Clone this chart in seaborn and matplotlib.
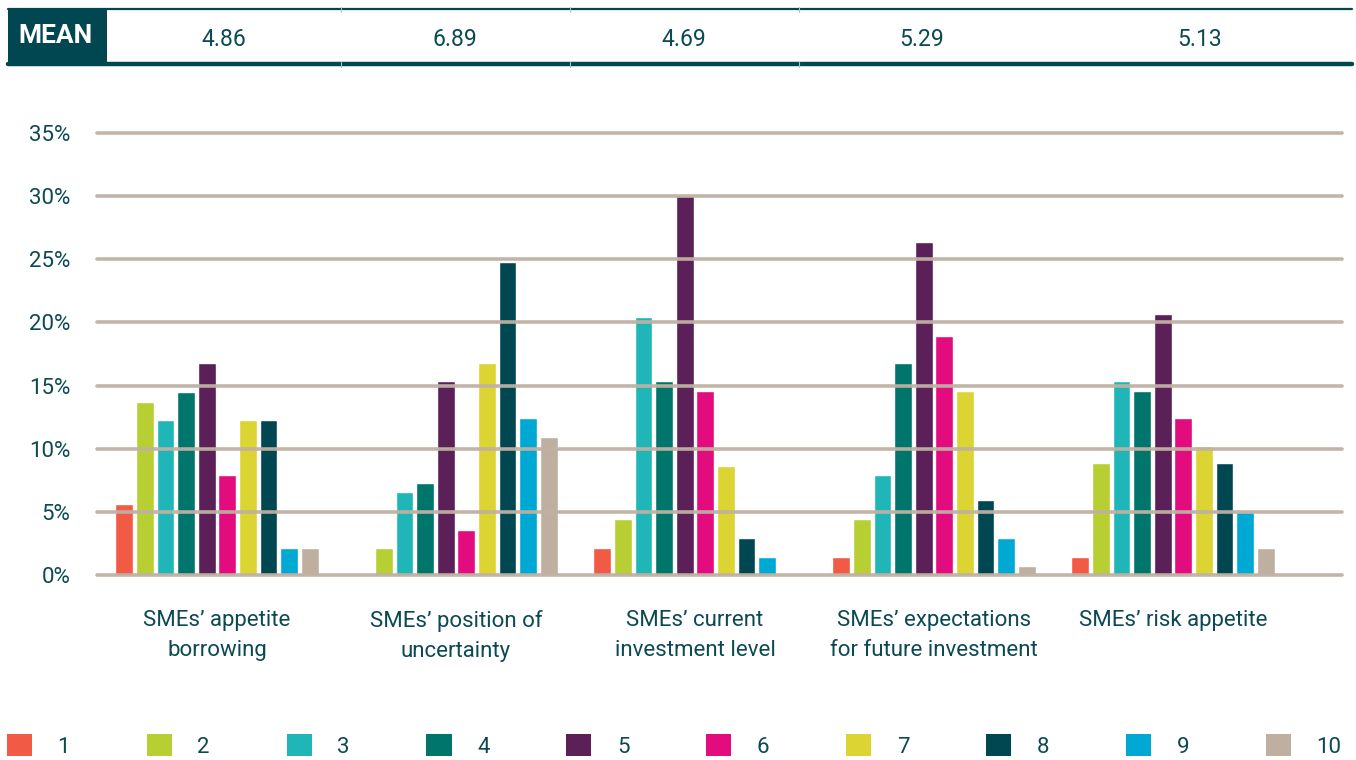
import matplotlib
matplotlib.use("Agg")
import matplotlib.pyplot as plt
from matplotlib.patches import Rectangle, Patch
from matplotlib.lines import Line2D
import numpy as np
import pandas as pd
import seaborn as sns

# Survey categories and the mean score for each
categories = [
    "SMEs\u2019 appetite\nborrowing",
    "SMEs\u2019 position of\nuncertainty",
    "SMEs\u2019 current\ninvestment level",
    "SMEs\u2019 expectations\nfor future investment",
    "SMEs\u2019 risk appetite",
]
means = ["4.86", "6.89", "4.69", "5.29", "5.13"]

# Share of respondents (%) giving each score 1-10, per category
score_1 = [5.6, 0.0, 2.1, 1.4, 1.4]
score_2 = [13.7, 2.1, 4.4, 4.4, 8.9]
score_3 = [12.3, 6.6, 20.4, 7.9, 15.4]
score_4 = [14.5, 7.3, 15.4, 16.8, 14.6]
score_5 = [16.8, 15.4, 30.0, 26.4, 20.7]
score_6 = [7.9, 3.6, 14.6, 18.9, 12.4]
score_7 = [12.3, 16.8, 8.6, 14.6, 10.2]
score_8 = [12.3, 24.8, 2.9, 5.9, 8.9]
score_9 = [2.1, 12.4, 1.4, 2.9, 5.0]
score_10 = [2.1, 10.9, 0.0, 0.7, 2.1]

scores = ["1", "2", "3", "4", "5", "6", "7", "8", "9", "10"]
score_values = [score_1, score_2, score_3, score_4, score_5,
                score_6, score_7, score_8, score_9, score_10]

y_ticks = [0, 5, 10, 15, 20, 25, 30, 35]

palette = ["#F15A45", "#B8CF33", "#20B6B8", "#00756C", "#5C2058",
           "#E20C7F", "#DCD433", "#004751", "#00A8D4", "#BFAFA0"]

TEXT = "#0C4A53"
GRID = "#BFB1A3"
DARK = "#004751"

rows = []
for s, vals in zip(scores, score_values):
    for c, v in zip(categories, vals):
        rows.append({"category": c, "score": s, "share": v})
df = pd.DataFrame(rows)

sns.set_theme(style="white")
plt.rcParams["font.family"] = ["Roboto", "DejaVu Sans"]

fig = plt.figure(figsize=(13.56, 7.60), dpi=100)
W, H = 1356, 760


def fx(px):
    return px / W


def fy(py):
    return 1 - py / H


ax = fig.add_axes([fx(97), fy(575), (1342 - 97) / W, (575 - 133) / H])

sns.barplot(data=df, x="category", y="share", hue="score",
            order=categories, hue_order=scores, palette=palette,
            width=0.862, gap=0.13, saturation=1, errorbar=None,
            legend=False, ax=ax, zorder=2)

ax.set_xlim(-0.502, 4.707)
ax.set_ylim(0, 35)
for t in y_ticks:
    ax.axhline(t, color=GRID, lw=2.6, zorder=3, clip_on=False, alpha=0.95)

ax.set_yticks(y_ticks)
ax.set_yticklabels([f"{t}%" for t in y_ticks])
ax.tick_params(axis="y", length=0, pad=19, labelsize=16, labelcolor=TEXT)
ax.tick_params(axis="x", length=0, pad=25, labelsize=16, labelcolor=TEXT)
for lab in ax.get_xticklabels():
    lab.set_linespacing(1.6)
ax.set_xlabel("")
ax.set_ylabel("")
sns.despine(ax=ax, left=True, bottom=True)
ax.grid(False)

# Header strip with the mean score per category
fig.add_artist(Line2D([fx(8), fx(1352)], [fy(9), fy(9)], color=DARK, lw=1.6,
                      transform=fig.transFigure))
fig.add_artist(Line2D([fx(8), fx(1352)], [fy(64), fy(64)], color=DARK, lw=3.2,
                      transform=fig.transFigure))
for xd in [341, 570, 799]:
    for yd in (9, 64):
        fig.add_artist(Line2D([fx(xd), fx(xd)], [fy(yd - 2.5), fy(yd + 2.5)],
                              color="#a9c4c6", lw=0.8,
                              transform=fig.transFigure))
fig.add_artist(Rectangle((fx(8), fy(66)), fx(107) - fx(8), fy(8) - fy(66),
                         facecolor=DARK, edgecolor="none",
                         transform=fig.transFigure))
fig.text(fx(56), fy(36), "MEAN", color="white", fontsize=19, fontweight="bold",
         ha="center", va="center")
for xm, m in zip([224, 455, 684, 922, 1200], means):
    fig.text(fx(xm), fy(40), m, color=TEXT, fontsize=16.5, ha="center",
             va="center")

# Score legend along the bottom
handles = [Patch(facecolor=c, edgecolor="none") for c in palette]
fig.legend(handles, scores, loc="center left", bbox_to_anchor=(fx(7), fy(746)),
           ncol=10, frameon=False, fontsize=16, labelcolor=TEXT,
           handlelength=1.13, handleheight=1.15, handletextpad=1.15,
           columnspacing=3.45, borderpad=0, borderaxespad=0)

fig.savefig("out.png", dpi=100)
